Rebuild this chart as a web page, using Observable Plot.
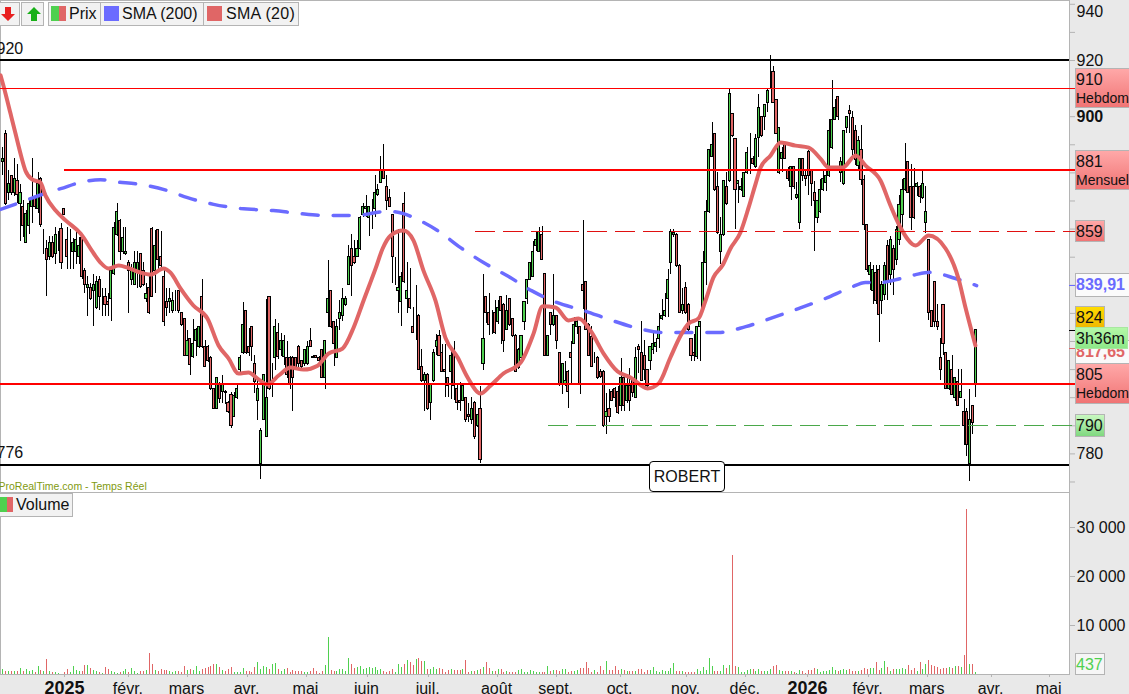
<!DOCTYPE html>
<html lang="fr">
<head>
<meta charset="utf-8">
<script src="https://cdn.jsdelivr.net/npm/d3@7"></script>
<script src="https://cdn.jsdelivr.net/npm/@observablehq/plot@0.6"></script>
<style>
html,body{margin:0;padding:0;background:#e9e9e9;overflow:hidden;font-family:"Liberation Sans",Arial,sans-serif;color:#111;}
#stage{position:relative;width:1129px;height:694px;overflow:hidden;}
#stage svg{position:absolute;left:0;}
.box{position:absolute;left:1075px;box-sizing:border-box;border:1.5px solid #b4b4b4;font-size:16px;line-height:19px;padding:1px 0 0 0;white-space:nowrap;overflow:hidden;}
.box small{display:block;font-size:14px;line-height:18px;}
.leg{position:absolute;box-sizing:border-box;height:24px;top:2px;background:#f2f2f2;border:1px solid #b4b4b4;font-size:16px;line-height:22px;white-space:nowrap;}
.sw{position:absolute;top:3px;width:15px;height:15px;}
</style>
</head>
<body>
<div id="stage"></div>
<script>
const opens=[884,894,873,879,873,877,869,868,855,861,
868,871,867,878,856,853,850,855,851,855,
860,867,856,855,852,852,850,857,845,839,
839,838,832,842,834,836,834,835,844,858,
863,852,851,848,842,840,845,851,845,835,
839,860,845,859.5,850,843,834,834,831,834.5,
838,830,828,815,821,814.5,820,818,836,818,
818,814,803,796,805,802,802,798,801,793,
800,810,816,831,818,825,812,799,776.5,792,
786,836,810,814,823,817,814.5,814,814,814,
814,818,813,812,812,820,814.5,815,814,817,
807,830,838,827,814,828,829,833,840,853,
850,850,853,865,867,864,867,867,872,876.5,
880.5,875,871,865,840,838,834,869,835,835,
825,830,829,811,806,808,798,806,818,822,
816,810,807,809,817,803,799,799,800,794,
792,798,790,796,812,836,830,826,830,827,
836,833,824,835,828,822,810.5,814,827,835,
842,843,854,852,858,844,815,830,826,829,
816,804.5,804.5,809,816,819,825,825,840,841,
826,821.5,812,814,809,809,793,796,802,803,
802,797,807,799,804,806,800,818,816,815,
810,813,817,818,821,828,829,835,848,858,
858,847,831,839,833,821,816,814.5,825,832,
848,866,885.5,894,875,852,858,875,877,901,
892,876,874,871.5,880,885.5,885,882,892.5,900,
900,905,915,916,906,880,885,890,880.5,875,
882,871,862,885,879,887.5,881,873,864,866,
874,876.5,879,889,899,907,880,876,896,902,
899.5,895,882.5,888,877.5,861.5,843.5,838,844.5,845.5,
834.5,836.5,854,843.5,853,849,856,865,874,884,
875,875,875,875,871,862,856,831,841,827,
814,833,816,803,810,800,805.5,800,795,795,
776.5,797,804.5];
const highs=[889,895,881,879,885,883,876,870,866.5,871,
885,871,880,878.5,860,856,857.5,857.5,860.5,859,
862,867,860.5,860,856.5,860,857,858,846,843,
840.5,844,843,843,839,839,837,846,862.5,869,
863.5,860.5,860.5,849,847.5,852,852,851,848,840.5,
843,860.5,859.5,860,859,846,839,839,837.5,838,
838,830,828,824,821,828,824.5,825,842,820.5,
818.5,814.5,803,807,805.5,808,802.5,798.5,802,802,
805,815,834,831,824.5,825,815,806,789,808,
835,836,812,828,826.5,823,822,820,814.5,814.5,
814,818.5,813,817,820,824.5,815,815,814.5,817,
820,849,838,827,828,834.5,839,836,854,858,
856,856,864.5,869,872,868,870.5,879,876,886,
890,879,874,865,850,860,844.5,873,848,846,
832,840,829.5,817,809,808.5,805,817,822.5,824,
819,819,807,817.5,820,804.5,805.5,804.5,800,798,
800,798.5,794,804,844,836,837,831,834.5,834.5,
836,833.5,836.5,835,828,822.5,817.5,822,834,842,
848,855.5,859,860.5,861,844,822,830,844,829,
816,812,813,809.5,820,828.5,827.5,825,863,841,
826.5,825.5,816,814.5,810,809.5,801.5,803,803,803.5,
804,814,807.5,807.5,810.5,806,818,819,827,820.5,
810,818,824,821,830,835,837,845.5,860,860,
858.5,847.5,839,841,833.5,821,822.5,825,827,852,
870,888,898,894,880,864,877,880,909.5,901,
892,877,878,880,889,894,886,893.5,908,900,
904,910,921.8,918,906,896,889,890,882,882,
882,876.5,885,885,880.5,888,881,877,870,877.5,
881,881,899,913,906,907,885.5,895,900,904,
902,897,893,897,879,861.5,848,847,847,847,
841.5,848,856,857.5,854,861,872,877.5,890.5,884,
883,881.5,876.5,875.5,880.5,875,856,831,841,833,
821,833,816,813,815,807,810,810,799.5,796,
803,797,824];
const lows=[879,868.5,870,872,871.5,869,855.5,857,855,858,
862,867,865.5,860.5,851,836,849,849.5,847.5,852,
845.5,865,845.5,845.5,845.5,847.5,847.5,842,837,829,
834.5,825.5,831.5,831,829,829,829,827,843.5,857.5,
849,851,850.5,830,840,840,839,839,839.5,834,
829.5,835.5,837,845.5,846.5,825.5,829,830,830,830.5,
830,825.5,814.5,814.5,808,814,814.5,817.5,817.5,811,
812.5,802.5,796,796,798,798,797.5,794.5,789,793,
799.5,808.5,815.5,815.5,814.5,813,801.5,792,771,792,
786,802.5,800,809.5,813.5,814.5,811.5,807,803,795,
810,810,810.5,811,811.5,818,814,814,811,807,
803,825,824.5,811,814,824,827,832.5,840,836,
847.5,850,852.5,864,864,857.5,860,864,871.5,876.5,
877.5,866.5,868,840.5,840,830,825.5,840.5,830,831.5,
823,820.5,809.5,805.5,795,795.5,792,805.5,815,814.5,
809,800,800,799.5,799,795.5,795,798.5,791,791,
790.5,785,789.5,776.5,809.5,826.5,822,822.5,822.5,826,
819,816,824,825.5,821.5,809,810,812,824,833,
842,843,852,851.5,849,814.5,815,822,825.5,817,
804,801,804,796,805,819,822.5,801,831.5,824,
814.5,811,812,806.5,807,789.5,787,791,799,796.5,
794,795,795,798,795,800,800,808.5,806,806,
803,809.5,815.5,816,817.5,827.5,828.5,828.5,844,857,
846.5,830,829.5,829.5,823.5,813,813,813.5,813,832,
840,865.5,885.5,873.5,858,847.5,857.5,868.5,876.5,892.5,
860,869,873.5,871.5,879.5,879.5,882.5,881.5,885.5,892.5,
895,901.5,910,905,894,879.5,880,885,877,870,
874,870.5,860,877,875,872,868,852,862,865.5,
873.5,873.5,878.5,888.5,899,898.5,876.5,875.5,894,894,
886,882.5,881,875.5,859.5,844.5,838,833,833,819.5,
829.5,834.5,834.5,840,836.5,847,854,858.5,873.5,872.5,
859.5,863.5,871.5,869,870.5,858.5,827.5,825,825,824,
806,815,803,802.5,801,798.5,797,800,783,779,
770,787,800];
const closes=[885,869,876,873,878,872,873,861,865.5,869,
871,868,876,861.5,856,849,855,850,858,855,
848,865,850,855,855,856,854,843,840,840,
835,840,841,836,834,833,833,845,860.5,866,
852,857,852,845,845,848,848,839.5,840,837,
830,836,854,849,847,827,832,835,834.5,834.5,
831,826,815,820,811.5,819,824,825,818,811,
813,803,796,807,799.5,805,801.5,795,790,800.5,
803,814,826,816,816,818,805.5,803,788,808,
800,803,810,825,814.5,820,820,808,804.5,807,
810.5,812,811,817,818,818,814,814,813,807,
820,835,825,819,825,830,835,835,850,847,
848,853,864,868,868,868,867,873,874,880.5,
878,870,868,850,840,839,843,841,838,832,
823,830,810,806,808,796,805,816,820,815,
809,809,804,815,804,798,798,804,792,793,
796,786,794,778,821,830,826,826,823,832,
831,820,831,826,822,809,817,822,834,842,
848,852,856,859,849,815,822,826,829,820,
805,812,806,802,814,826,827,805,838,824,
815,811,812,807,807.5,790,795,793,799,800,
794.5,807,797,804,799,801.5,814,817,806,810,
804,818,819,819.5,825,829,831,842,859,858.5,
847,830,833,830,824,815,815,825,827,848,
866,888,890,874,858.5,858,877,869,908,893,
874,877,875,880,887,885.5,883,892,903,893,
904,909,915,905,894,896,887,885,878,882,
875,872,885,879,878,879,876,870,870,874,
878,879,895,899,903,900,884,895,900,901,
888,884.5,891.5,877.5,861.5,845.5,847,845.5,834.5,829.5,
840,847,841.5,856,845.5,859.5,868.5,874,878,873,
864,864,876,871.5,876,866,830,825,827,825,
810,819,803,813,801,807,797,802,790,783,
792,791,824];
const volumes=[1000,700,550,600,550,600,1200,550,1000,700,
800,400,1650,800,700,3000,550,400,350,200,
100,350,1000,500,1650,900,550,600,1900,1900,
1150,900,550,500,200,1450,1000,700,400,300,
350,550,1000,350,1200,600,200,600,550,800,
4300,2100,800,700,1000,750,900,600,500,550,
600,500,1650,900,1000,900,1650,600,1100,1200,
1350,1650,2050,2050,1500,900,550,950,1500,400,
500,500,1200,600,550,400,1500,2450,1100,1650,
1500,1000,2050,2300,1000,700,1000,1200,500,800,
550,700,600,350,400,600,1200,600,200,600,1850,7500,
800,600,550,1000,1000,600,3250,2050,1200,1450,
1700,1000,1200,1450,1200,1450,800,1000,600,350,
550,1000,400,2050,1450,2050,2850,2450,1850,3050,
3250,2650,2650,1000,1000,1450,1000,1200,1000,400,
800,1000,800,800,800,1000,2850,400,600,600,
800,1000,1450,2450,1200,700,600,1000,1000,400,
600,400,400,400,800,1000,400,350,800,600,
400,400,350,350,1650,600,800,800,600,1000,
1000,400,600,600,800,1200,1200,2450,1200,400,
800,400,1650,800,2650,800,800,1650,800,1000,
800,600,600,600,600,1000,1000,400,800,800,
1450,600,400,800,600,600,1200,2250,600,600,
600,400,400,400,400,1000,600,1450,800,3250,
1650,600,600,600,1850,1200,1850,24300,1650,1450,
400,400,800,1000,1000,600,1000,600,600,600,
1000,1650,1850,800,600,600,600,600,400,200,
800,600,200,800,800,1200,1000,400,600,600,
800,1450,800,600,800,1000,800,1000,600,600,
600,800,1200,1000,1200,1200,2450,800,1200,2650,
1450,600,1000,1000,1000,1200,1000,1850,800,1200,
600,2450,1000,2050,2850,1850,1650,1450,1000,1200,
1200,1450,1200,1650,1650,1450,3900,33700,2050,2050,437];

const sma20Bars=[-0.8,0.9,2.6,4.3,6,7.7,10.1,12.8,14.5,18,21.4,26.5,31,33.3,36,39.5,42.5,47,50.4,54.8,57.2,60.6,65,69.8,73.6,77,80.4,83.8,86.9,90.3,94.1,98.2,102.6,107.4,111.1,115.9,119.7,123.1,127.2,129.6,132.3,136.7,140.1,143.5,147.6,151,155.2,158.6,163,166.4,170.8,176.7,181.1,184.2,188.6,193,196.5,200.5,205,209.8,214.2,220,223.8,227.8,231.3,234,237.4,239.8,242.5,245.6,248.3,251.7,254.5,256.9,258.6,262,265.4,270.5,275,279,281.8,286.6,291,294.4,299.5,302.9,306.3,311.5,315.9,321.7,326.1,328.5,331.9];
const sma20Values=[914.7,908.2,901.1,894,886.9,880.8,877.6,876.6,872,866.6,863.1,858.4,851.3,848.1,846,847,846.3,844.5,843.8,846,844.5,838.9,832.8,828.2,818.6,814,808.6,809,806.8,804.7,807.9,810.7,810,811.4,815.7,817.5,825,834.6,846,853.1,857.7,859.5,856,845.3,834.6,821.4,814.3,807.2,801.5,804.3,808.6,812.5,822.8,832.5,832.1,827.5,828.2,823.9,815.7,809.3,807.2,803.3,805.1,814.3,822.1,826.4,828.2,834.6,842.8,847.1,853.1,858.8,867.7,876.2,881.9,886.2,890.8,889.7,889,885.1,881.9,881.9,886.2,882.6,877.3,868.4,860.6,854.2,857.7,853.1,842.4,832.1,818.6];
const sma200Bars=[-0.8,6,10.4,15.2,19.7,26.5,33.3,37.7,47,56.2,63,71.9,81.1,92.3,101.6,111.8,119.7,131.3,136.7,140.1,148.3,156.2,164,172.6,180.4,189,198.2,207,215.6,225.5,235,244.2,253.5,262.7,271.5,280.7,289.3,294.4,299.5,306.3,311.5,316.6,325.1,332.3];
const sma200Values=[867,869.5,871.2,873,874.4,876.6,877.6,876.9,875.9,873.7,871.2,868.8,867.3,866.6,865.5,864.8,864.8,866.3,865.5,864.1,859.5,853.4,848.1,843.1,838.1,833.9,831,827.8,825,823.2,823.2,823.2,825.3,828.5,831.7,835.3,839.2,841,841,842.4,843.8,844.6,842.4,839.9];

const levelValues=[920,910,881,859,805,790,776];
const levelStarts=[-1,-1,21,161.3,-1,186.2,-1];
const levelColors=["#000","#f00","#f00","#e01010","#f00","#4aa84a","#000"];
const levelWidths=[2,1,2,1,2,1,2];
const levelDashes=[null,null,null,"20,8",null,"20,8",null];
const levelReachesAxis=[false,true,true,true,true,true,false];

const monthBars=[21,43,63,83.5,103.6,124.4,145.3,168.8,189,210.8,233.3,253.5,274.6,295.4,315.6,337.4,357.2];
const monthLabels=["2025","févr.","mars","avr.","mai","juin","juil.","août","sept.","oct.","nov.","déc.","2026","févr.","mars","avr.","mai"];
const boldMonths=["2025","2026"];
const priceLabels=[920,780];
const volumeLabels=[10000,20000,30000];

const GREEN="#4fd04f",RED="#e06666",BLUE="#6b6bff",GREY="#b4b4b4";
const XMIN=-0.82,XMAX=364;
const bars=opens.map((o,i)=>({i,o,h:highs[i],l:lows[i],c:closes[i],v:volumes[i],up:closes[i]>=o}));
const xOpt={domain:[XMIN,XMAX],range:[0,1069],axis:null};
const fmtSpace=d=>d3.format(",")(d).replace(/,/g," ");
const baseStyle={background:"transparent",fontFamily:"'Liberation Sans',Arial,sans-serif",fontSize:"16px",overflow:"hidden",color:"#111"};
const crisp={shapeRendering:"crispEdges"};

const price=Plot.plot({
  width:1129,height:492,marginTop:0,marginRight:60,marginBottom:0,marginLeft:0,
  style:baseStyle,
  x:xOpt,
  y:{domain:[766.26,941.35],axis:null},
  marks:[
    Plot.frame({fill:"white",stroke:GREY}),
    Plot.axisY({anchor:"right",ticks:d3.range(770,941,10),tickFormat:()=>"",tickSize:5,stroke:GREY,label:null}),
    Plot.ruleX(bars,{x:"i",y1:"l",y2:"h",stroke:"#000",strokeWidth:1,...crisp}),
    Plot.rect(bars,{x1:d=>d.i-0.36,x2:d=>d.i+0.36,y1:"o",y2:"c",fill:d=>d.up?GREEN:RED,stroke:"#000",strokeWidth:1,...crisp}),
    Plot.line(sma200Bars.map((b,i)=>[b,sma200Values[i]]),{x:"0",y:"1",stroke:BLUE,strokeWidth:3.5,strokeDasharray:"16,15",curve:"monotone-x"}),
    Plot.line(sma20Bars.map((b,i)=>[b,sma20Values[i]]),{x:"0",y:"1",stroke:RED,strokeWidth:4,curve:"monotone-x"}),
    ...levelValues.map((v,k)=>Plot.ruleY([v],{x1:()=>levelStarts[k],x2:()=>levelReachesAxis[k]?XMAX+2:XMAX,stroke:levelColors[k],strokeWidth:levelWidths[k],strokeDasharray:levelDashes[k],...crisp})),
    Plot.ruleY([839.91],{x1:()=>XMAX,x2:()=>XMAX+2,stroke:BLUE,strokeWidth:1,...crisp}),
    Plot.ruleY([824],{x1:()=>XMAX,x2:()=>XMAX+2,stroke:"#000",strokeWidth:1,...crisp}),
    Plot.ruleY([817.65],{x1:()=>XMAX,x2:()=>XMAX+2,stroke:RED,strokeWidth:1,...crisp}),
    Plot.text(priceLabels,{x:()=>XMAX,y:d=>d,text:d=>String(d),dx:7,textAnchor:"start",fontSize:16,fill:"#111"}),
    Plot.text([940],{x:()=>XMAX,y:d=>d,text:d=>String(d),dx:7,dy:8,textAnchor:"start",fontSize:16,fill:"#111"}),
    Plot.text([900],{x:()=>XMAX,y:d=>d,text:d=>String(d),dx:7,textAnchor:"start",fontSize:16,fontWeight:"bold",fill:"#111"}),
    Plot.text([920],{x:()=>XMIN,y:d=>d,text:d=>String(d),dx:-4,dy:-12,textAnchor:"start",fontSize:16,fill:"#111"}),
    Plot.text([776],{x:()=>XMIN,y:d=>d,text:d=>String(d),dx:-4,dy:-12,textAnchor:"start",fontSize:16,fill:"#111"}),
    Plot.text(["ProRealTime.com - Temps Réel"],{x:()=>XMIN,y:()=>766.26,dx:-2,dy:-6,textAnchor:"start",fontSize:10.5,fill:"#7f9a10"})
  ]
});
price.style.top="0px";

const volume=Plot.plot({
  width:1129,height:202,marginTop:0,marginRight:60,marginBottom:20,marginLeft:0,
  style:baseStyle,
  x:xOpt,
  y:{domain:[0,37143],axis:null},
  marks:[
    Plot.frame({fill:"white",stroke:GREY}),
    Plot.ruleX(bars,{x:"i",y1:()=>0,y2:"v",stroke:d=>d.up?GREEN:RED,strokeWidth:1,...crisp}),
    Plot.axisY({anchor:"right",ticks:volumeLabels,tickFormat:()=>"",tickSize:5,stroke:GREY,label:null}),
    Plot.text(volumeLabels,{x:()=>XMAX,y:d=>d,text:fmtSpace,dx:7,textAnchor:"start",fontSize:16,fill:"#111"}),
    Plot.ruleX(monthBars,{x:d=>d,y1:()=>0,y2:()=>-650,stroke:GREY,strokeWidth:1,...crisp}),
    Plot.text(monthBars.map((b,i)=>({b,t:monthLabels[i]})).filter(d=>!boldMonths.includes(d.t)),{x:"b",y:()=>0,text:"t",dy:14,dx:-1,fontSize:16,fill:"#111"}),
    Plot.text(monthBars.map((b,i)=>({b,t:monthLabels[i]})).filter(d=>boldMonths.includes(d.t)),{x:"b",y:()=>0,text:"t",dy:14,fontSize:18,fontWeight:"bold",fill:"#111"})
  ]
});
volume.style.top="492px";

const stage=document.getElementById("stage");
stage.append(price,volume);
const yP=price.scale("y");

function box(center,h,html,css,width){
  const d=document.createElement("div");
  d.className="box";
  d.innerHTML=html;
  d.style.cssText=`top:${center-h/2}px;height:${h}px;width:${width}px;${css}`;
  stage.append(d);
}
const pink="background:linear-gradient(#ffa8a8,#f07474);";
box(yP.apply(817.65)+4,24,"817,65","background:#fafafa;color:#e06666;font-weight:bold;",60);
box(yP.apply(910),40,"910<small>Hebdom</small>",pink,60);
box(yP.apply(881),40,"881<small>Mensuel</small>",pink,60);
box(yP.apply(859),22,"859",pink,30);
box(yP.apply(839.91),24,"839,91","background:#fbfbfb;color:#6b6bff;font-weight:bold;",60);
box(316.5,22,"824","background:linear-gradient(#ffdc00,#f0b800);",30);
box(338,22,"3h36m","background:linear-gradient(#b4f8a8,#8ee888);border-color:#a8e8a0;",53);
box(yP.apply(805),41,"805<small>Hebdom</small>",pink,60);
box(yP.apply(790),23,"790","background:linear-gradient(#c8f8c0,#80d880);",30);
box(663.5,22,"437","background:#f6f6f6;color:#4fd04f;",30);

function leg(left,width,html){
  const d=document.createElement("div");
  d.className="leg";
  d.style.left=left+"px";d.style.width=width+"px";
  d.innerHTML=html;
  stage.append(d);
}
const arrow=(c,p)=>`<svg width="18" height="18" viewBox="0 0 18 18" style="left:2px;top:2px"><polygon points="${p}" fill="${c}"/></svg>`;
leg(-4,24,arrow("#e82020","7,2 13,2 13,9 17,9 10,16 3,9 7,9").replace('left:2px','left:1px'));
leg(21,23,arrow("#18b018","7,16 13,16 13,9 17,9 10,2 3,9 7,9"));
leg(48,53,`<span class="sw" style="left:2px;width:8px;background:#4fd04f"></span><span class="sw" style="left:10px;width:7px;background:#e06666"></span><span style="position:absolute;left:20px">Prix</span>`);
leg(100,104,`<span class="sw" style="left:3px;background:#6b6bff"></span><span style="position:absolute;left:21px">SMA (200)</span>`);
leg(203,96,`<span class="sw" style="left:3px;background:#e06666"></span><span style="position:absolute;left:22px;letter-spacing:.3px">SMA (20)</span>`);
const vl=document.createElement("div");
vl.className="leg";
vl.style.cssText="left:-1px;top:493px;width:74px;";
vl.innerHTML=`<span class="sw" style="left:0;width:7px;background:#4fd04f"></span><span class="sw" style="left:7px;width:6px;background:#e06666"></span><span style="position:absolute;left:16px">Volume</span>`;
stage.append(vl);

const rb=document.createElement("div");
rb.textContent="ROBERT";
rb.style.cssText="position:absolute;left:649px;top:461px;width:76px;height:31px;box-sizing:border-box;background:#fff;border:1px solid #000;border-radius:4px;font-size:16px;line-height:29px;text-align:center;";
stage.append(rb);
</script>
</body>
</html>
